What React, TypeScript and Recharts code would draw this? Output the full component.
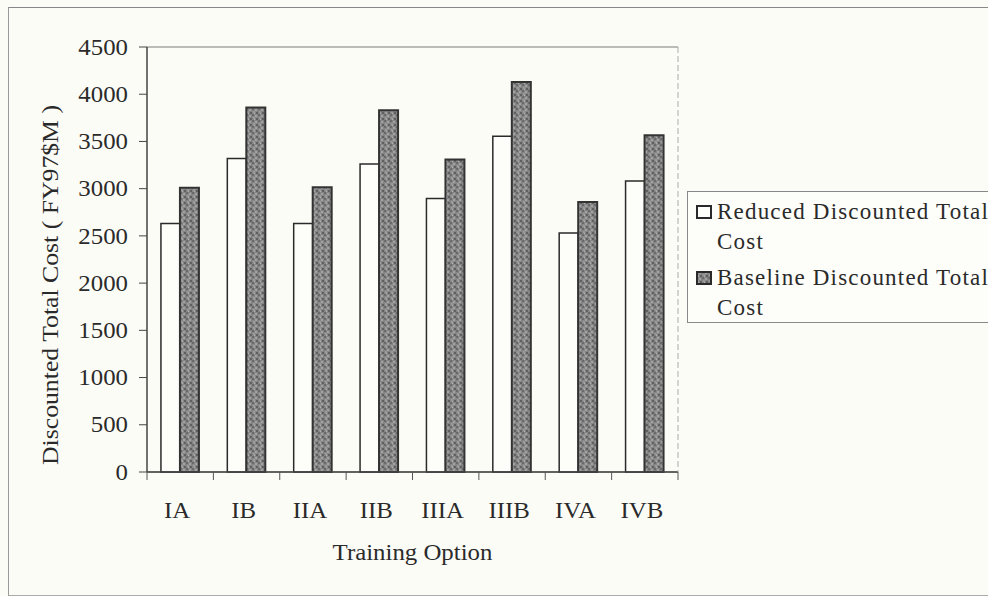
import React from 'react';
import { BarChart, Bar, XAxis, YAxis, CartesianGrid, Legend, Label } from 'recharts';

const categories = ['IA', 'IB', 'IIA', 'IIB', 'IIIA', 'IIIB', 'IVA', 'IVB'];
const reducedCost = [2630, 3320, 2630, 3260, 2895, 3555, 2530, 3080];
const baselineCost = [3010, 3860, 3015, 3830, 3310, 4130, 2860, 3565];
const yTicks = [0, 500, 1000, 1500, 2000, 2500, 3000, 3500, 4000, 4500];

const seriesNames = ['Reduced Discounted Total Cost', 'Baseline Discounted Total Cost'];

const data = categories.map((c, i) => ({
  name: c,
  reduced: reducedCost[i],
  baseline: baselineCost[i],
}));

const W = 988;
const H = 596;
const PLOT_LEFT = 147;
const PLOT_RIGHT = 678;
const PLOT_TOP = 47;
const PLOT_BOTTOM = 472;
const BAND = (PLOT_RIGHT - PLOT_LEFT) / categories.length;
const FONT = '"Liberation Serif", "Times New Roman", serif';
const TEXT = '#2a2a2a';
const STRETCH = 1.08;

const XTick = (props: any) => {
  const { x, y, payload, index } = props;
  const isLast = index === categories.length - 1;
  return (
    <g>
      <line x1={x - BAND / 2} x2={x - BAND / 2} y1={y} y2={y + 8} stroke="#555" strokeWidth={1} />
      {isLast && <line x1={x + BAND / 2} x2={x + BAND / 2} y1={y} y2={y + 8} stroke="#555" strokeWidth={1} />}
      <text
        transform={`translate(${x - 3},${y + 46}) scale(${STRETCH},1)`}
        textAnchor="middle"
        fontFamily={FONT}
        fontSize={23}
        fill={TEXT}
      >
        {payload.value}
      </text>
    </g>
  );
};

const YTick = (props: any) => {
  const { x, y, payload } = props;
  return (
    <text
      transform={`translate(${x},${y}) scale(${STRETCH},1)`}
      textAnchor="end"
      dominantBaseline="central"
      fontFamily={FONT}
      fontSize={23}
      fill={TEXT}
    >
      {payload.value}
    </text>
  );
};

const LegendBox = () => {
  const rows = [
    { name: seriesNames[0], fill: '#fdfdf9' },
    { name: seriesNames[1], fill: 'url(#baseTex)' },
  ];
  return (
    <div
      style={{
        border: '1px solid #888',
        borderRight: 'none',
        width: 310,
        height: 132,
        boxSizing: 'border-box',
        background: '#fdfdf9',
        fontFamily: FONT,
        fontSize: 23,
        color: TEXT,
        letterSpacing: 1.2,
        paddingTop: 5,
        textAlign: 'left',
      }}
    >
      {rows.map((r, i) => {
        const words = r.name.split(' ');
        const first = words.slice(0, 3).join(' ');
        const second = words.slice(3).join(' ');
        return (
          <div key={i} style={{ position: 'relative', paddingLeft: 29, lineHeight: '30px', marginBottom: i === 0 ? 6 : 0 }}>
            <svg width={16} height={14} style={{ position: 'absolute', left: 8, top: 8 }}>
              <rect x={1} y={1} width={14} height={12} fill={r.fill} stroke="#2a2a2a" strokeWidth={2} />
            </svg>
            <div style={{ whiteSpace: 'nowrap' }}>{first}</div>
            <div>{second}</div>
          </div>
        );
      })}
    </div>
  );
};

export default function App() {
  return (
    <div style={{ position: 'absolute', left: 0, top: 0, width: W, height: H, overflow: 'hidden', background: '#fcfcf7' }}>
      <svg width={0} height={0} style={{ position: 'absolute' }}>
        <defs>
          <pattern id="baseTex" width={6} height={6} patternUnits="userSpaceOnUse">
            <rect width={6} height={6} fill="#858585" />
            <rect x={0} y={0} width={2} height={2} fill="#6a6a6a" />
            <rect x={3} y={1} width={2} height={2} fill="#a2a2a2" />
            <rect x={1} y={3} width={2} height={2} fill="#9a9a9a" />
            <rect x={4} y={4} width={2} height={2} fill="#606060" />
            <rect x={2} y={5} width={1} height={1} fill="#b0b0b0" />
          </pattern>
        </defs>
      </svg>
      <div
        style={{
          position: 'absolute',
          left: 8,
          top: 7,
          width: 1000,
          height: 587,
          borderLeft: '1px solid #999',
          borderTop: '1px solid #888',
          borderBottom: '1px solid #aaa',
        }}
      />
      <div style={{ position: 'absolute', left: 0, top: 0 }}>
        <BarChart
          width={W}
          height={H}
          data={data}
          margin={{ top: PLOT_TOP, right: W - PLOT_RIGHT - 1, bottom: 36, left: 7 }}
          barCategoryGap="21%"
          barGap={0}
        >
          <CartesianGrid vertical={false} stroke="#7a7a7a" strokeWidth={1} />
          <XAxis
            dataKey="name"
            height={H - PLOT_BOTTOM - 36}
            tickLine={false}
            tickSize={0}
            tickMargin={0}
            tick={<XTick />}
            axisLine={{ stroke: '#444', strokeWidth: 1.5 }}
            interval={0}
          >
            <Label
              content={() => (
                <text
                  transform={`translate(${(PLOT_LEFT + PLOT_RIGHT) / 2},560) scale(${STRETCH},1)`}
                  textAnchor="middle"
                  fontFamily={FONT}
                  fontSize={23}
                  fill={TEXT}
                >
                  Training Option
                </text>
              )}
            />
          </XAxis>
          <YAxis
            yAxisId="left"
            width={PLOT_LEFT - 7}
            domain={[0, 4500]}
            ticks={yTicks}
            interval={0}
            tickSize={8}
            tickMargin={11}
            tickLine={{ stroke: '#444' }}
            axisLine={{ stroke: '#444', strokeWidth: 1.5 }}
            tick={<YTick />}
          >
            <Label
              content={() => (
                <text
                  x={0}
                  y={0}
                  transform="translate(50 285) rotate(-90)"
                  textAnchor="middle"
                  dominantBaseline="central"
                  fontFamily={FONT}
                  fontSize={23}
                  fill={TEXT}
                  textLength={360}
                  lengthAdjust="spacingAndGlyphs"
                >
                  Discounted Total Cost ( FY97$M )
                </text>
              )}
            />
          </YAxis>
          <YAxis
            yAxisId="right"
            orientation="right"
            width={1}
            domain={[0, 4500]}
            tick={false}
            tickLine={false}
            axisLine={{ stroke: '#aaa', strokeDasharray: '6 3' }}
          />
          <Legend
            layout="horizontal"
            verticalAlign="middle"
            align="center"
            content={<LegendBox />}
            wrapperStyle={{ position: 'absolute', left: 687, top: 191, width: 310, height: 132 }}
          />
          <Bar
            yAxisId="left"
            dataKey="reduced"
            name={seriesNames[0]}
            fill="#fdfdf9"
            stroke="#2a2a2a"
            strokeWidth={1.5}
            isAnimationActive={false}
          />
          <Bar
            yAxisId="left"
            dataKey="baseline"
            name={seriesNames[1]}
            fill="url(#baseTex)"
            stroke="#333"
            strokeWidth={2}
            isAnimationActive={false}
          />
        </BarChart>
      </div>
    </div>
  );
}
